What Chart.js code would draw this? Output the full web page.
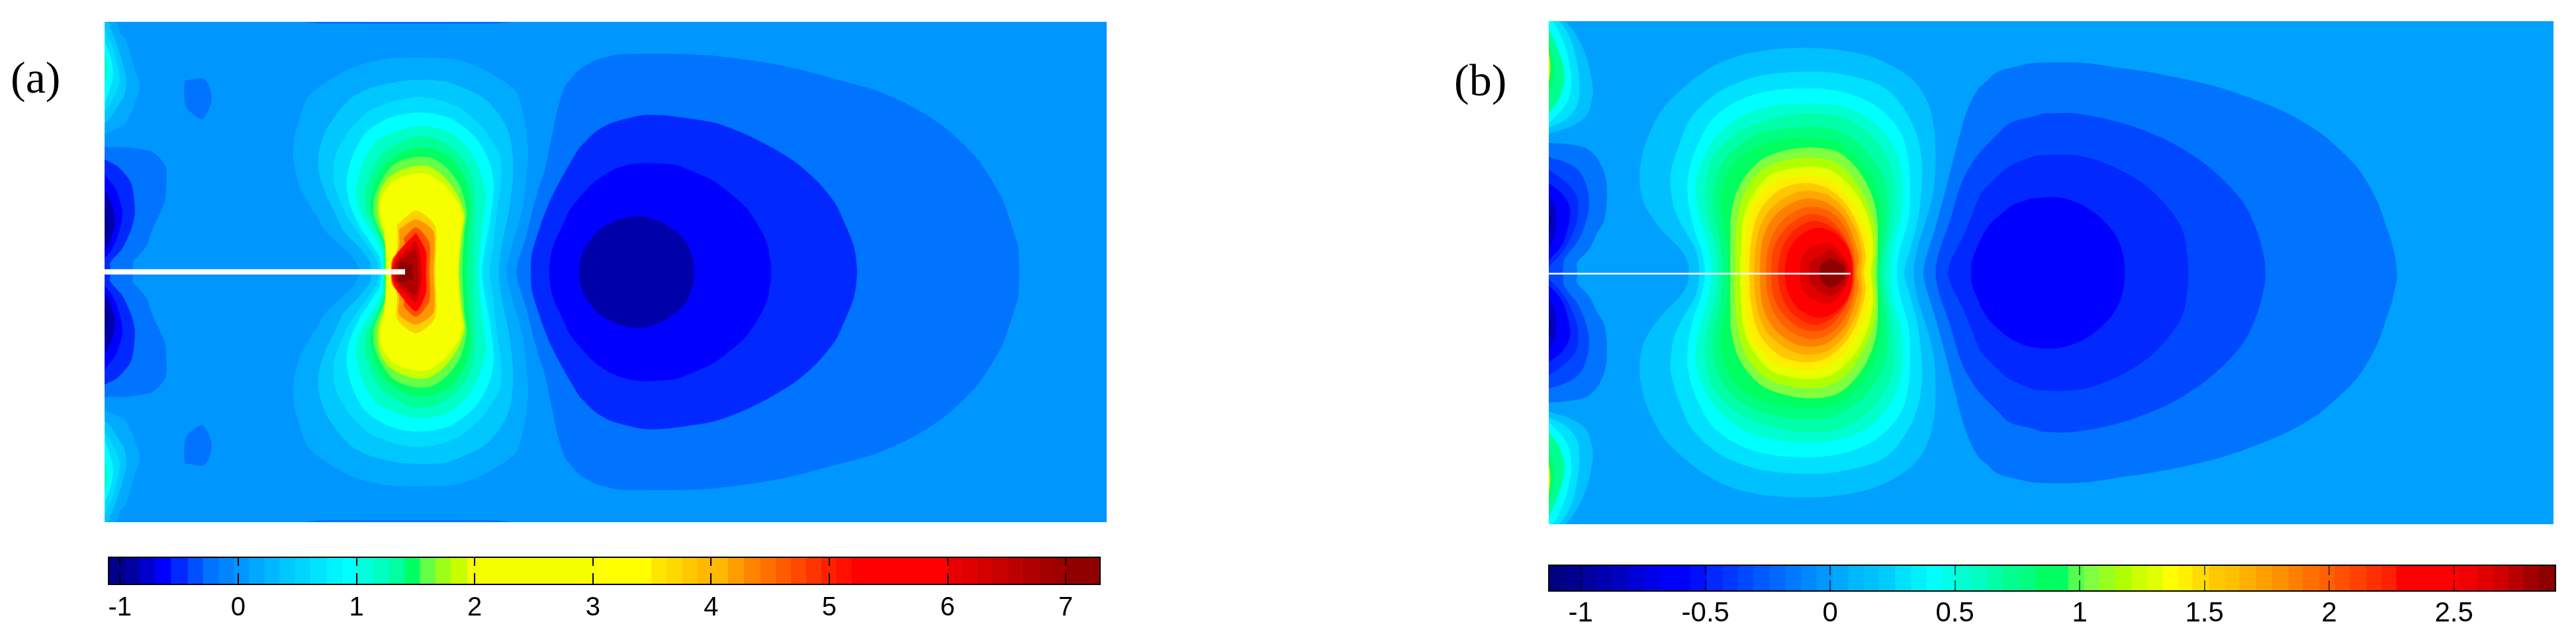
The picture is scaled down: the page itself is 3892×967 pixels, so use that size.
<!DOCTYPE html>
<html>
<head>
<meta charset="utf-8">
<script src="https://cdn.jsdelivr.net/npm/chart.js@4"></script>
<style>
  html, body { margin: 0; background: #fff; overflow: hidden; }
  canvas, .tag { position: absolute; }
  .tag { font: 68px "Liberation Serif", serif; color: #000; line-height: 68px; }
</style>
</head>
<body>
<div class="tag" style="left:16px;top:83px">(a)</div>
<div class="tag" style="left:2197px;top:87px">(b)</div>
<canvas id="field-a" style="left:158px;top:33px" width="1514" height="756"></canvas>
<canvas id="field-b" style="left:2340px;top:32px" width="1518" height="760"></canvas>
<canvas id="bar-a" style="left:100px;top:830px" width="1660" height="137"></canvas>
<canvas id="bar-b" style="left:2280px;top:842px" width="1612" height="125"></canvas>
<script>
// contour outlines, upper half of each plate; the lower half is the mirror image
// x, y are plate coordinates

// ---- panel (a)
var aPlate = [[275,99],[2913,99],[2913,1233],[275,1233]];
var aTopSliver = [[800,99],[840,107],[1310,107],[1345,99]];
var aHole = [[487,365],[535,356],[550,390],[557,460],[532,540],[490,487],[484,400]];

var aEdge1 = [[275,99],[305,99],[318,155],[330,175],[350,290],[368,390],[350,490],[332,555],[310,582],[275,607]];
var aEdge2 = [[275,99],[283,99],[300,170],[318,260],[332,350],[328,430],[310,480],[285,545],[275,555]];
var aEdge3 = [[275,130],[295,210],[310,300],[315,360],[305,420],[290,470],[275,505]];
var aEdge4 = [[275,190],[290,250],[298,330],[290,400],[275,470]];
var aEdge5 = [[275,240],[283,290],[280,350],[275,380]];

var aTrough1 = [[275,667],[330,667],[365,675],[402,690],[436,755],[435,900],[420,970],[403,1030],[385,1115],[350,1190],[348,1233],[275,1233]];
var aTrough2 = [[275,722],[310,755],[345,830],[355,960],[345,1040],[320,1130],[290,1190],[290,1233],[275,1233]];
var aTrough3 = [[275,790],[305,860],[322,960],[315,1040],[295,1130],[275,1170]];
var aTrough4 = [[275,860],[295,930],[303,1010],[290,1090],[275,1145]];
var aTrough5 = [[275,945],[285,1020],[275,1090]];

var aLobe1 = [[945,1233],[945,1215],[925,1160],[885,1095],[855,1045],[835,985],[805,905],[785,830],[772,720],[775,620],[790,530],[810,440],[855,375],[915,315],[965,285],[1045,262],[1180,265],[1240,290],[1310,350],[1360,420],[1380,540],[1390,680],[1385,800],[1375,950],[1350,1100],[1333,1233]];
var aLobe2 = [[975,1233],[975,1190],[945,1120],[905,1050],[880,960],[860,890],[840,790],[838,700],[855,600],[880,530],[920,450],[965,405],[1030,375],[1070,365],[1135,362],[1185,375],[1270,440],[1310,510],[1340,605],[1350,720],[1350,800],[1340,950],[1322,1100],[1312,1233]];
var aLobe3 = [[996,1233],[993,1185],[965,1110],[935,1040],[905,950],[880,830],[882,710],[920,590],[965,510],[1030,460],[1095,440],[1150,450],[1210,490],[1270,580],[1315,700],[1320,800],[1305,1000],[1298,1120],[1289,1233]];
var aLobe4 = [[1003,1233],[1000,1170],[975,1100],[945,1020],[920,920],[912,830],[925,720],[960,605],[1010,545],[1050,520],[1095,510],[1140,515],[1190,540],[1250,620],[1285,720],[1300,840],[1290,1000],[1277,1120],[1269,1233]];
var aLobe5 = [[1008,1233],[1005,1140],[975,1040],[945,950],[937,860],[955,740],[990,640],[1050,590],[1095,572],[1140,575],[1190,605],[1235,680],[1265,780],[1280,890],[1270,1020],[1262,1150],[1260,1233]];
var aLobe6 = [[1010,1233],[1010,1130],[990,1040],[965,960],[960,880],[975,780],[1010,690],[1060,640],[1095,620],[1140,625],[1190,670],[1230,750],[1250,860],[1250,1000],[1245,1233]];
var aLobe7 = [[1012,1233],[1012,1120],[985,1000],[975,930],[985,830],[1015,740],[1060,690],[1095,670],[1140,675],[1190,720],[1225,810],[1240,920],[1235,1020],[1228,1233]];
var aLobe8 = [[1014,1233],[1012,1100],[985,985],[985,900],[1000,830],[1030,755],[1060,725],[1095,710],[1135,715],[1175,760],[1210,840],[1228,960],[1222,1050],[1217,1233]];
var aLobe9 = [[1016,1233],[1012,1080],[995,975],[998,880],[1020,810],[1055,770],[1095,750],[1130,755],[1165,795],[1200,870],[1222,970],[1215,1080],[1208,1233]];
var aLobe10 = [[1018,1233],[1012,1060],[1000,960],[1005,890],[1040,815],[1095,785],[1130,790],[1170,840],[1205,920],[1218,975],[1210,1100],[1205,1233]];

var aHot1 = [[1028,1233],[1030,1200],[1045,1130],[1045,1020],[1095,955],[1145,1025],[1145,1233]];
var aHot2 = [[1030,1233],[1030,1190],[1050,1120],[1050,1040],[1095,995],[1141,1050],[1141,1233]];
var aHot3 = [[1030,1233],[1034,1170],[1065,1115],[1062,1080],[1095,1030],[1130,1100],[1130,1233]];
var aHot4 = [[1031,1233],[1034,1190],[1051,1135],[1095,1055],[1121,1140],[1121,1233]];
var aHot5 = [[1036,1233],[1042,1185],[1060,1150],[1095,1095],[1110,1233]];
var aHot6 = [[1048,1233],[1048,1190],[1095,1130],[1100,1233]];
var aHot7 = [[1048,1233],[1048,1190],[1086,1200],[1086,1233]];

var aCold1 = [[1359,1233],[1385,1070],[1410,900],[1435,760],[1450,640],[1470,480],[1490,385],[1525,315],[1533,305],[1568,272],[1613,252],[1643,245],[1803,245],[1878,252],[2003,280],[2093,310],[2213,365],[2298,405],[2368,455],[2438,520],[2503,600],[2573,720],[2593,770],[2638,900],[2668,1050],[2680,1120],[2683,1233]];
var aCold2 = [[1397,1233],[1400,1150],[1423,1020],[1450,900],[1490,770],[1525,670],[1533,655],[1568,597],[1613,555],[1693,522],[1748,522],[1878,555],[1958,605],[2033,670],[2098,740],[2153,825],[2198,920],[2228,1030],[2248,1120],[2256,1233]];
var aCold3 = [[1445,1233],[1455,1120],[1481,1020],[1500,950],[1533,880],[1568,820],[1613,770],[1658,745],[1698,738],[1778,748],[1828,780],[1883,825],[1963,940],[2008,1060],[2023,1130],[2030,1233]];
var aCold4 = [[1524,1233],[1527,1180],[1540,1120],[1573,1050],[1613,1005],[1658,982],[1698,982],[1743,1008],[1788,1060],[1813,1120],[1826,1190],[1826,1233]];

var aCrack = [[275,1232.5],[1066,1232.5]];

var aLayers = [
  ['#0096ff', aPlate], ['#0073ff', aTopSliver], ['#0073ff', aHole],
  ['#00aaff', aEdge1], ['#00c8ff', aEdge2], ['#00dcff', aEdge3], ['#00ffff', aEdge4], ['#00ffc8', aEdge5],
  ['#0073ff', aTrough1], ['#0028ff', aTrough2], ['#0000ff', aTrough3], ['#0000aa', aTrough4], ['#00008c', aTrough5],
  ['#00aaff', aLobe1], ['#00c8ff', aLobe2], ['#00dcff', aLobe3], ['#00ffff', aLobe4], ['#00ffc8', aLobe5],
  ['#00ff96', aLobe6], ['#00ff64', aLobe7], ['#64ff46', aLobe8], ['#c8ff00', aLobe9], ['#f5ff00', aLobe10],
  ['#ffd000', aHot1], ['#ff9600', aHot2], ['#ff5000', aHot3], ['#ff0000', aHot4], ['#d00000', aHot5], ['#b00000', aHot6], ['#8c0000', aHot7],
  ['#0073ff', aCold1], ['#0028ff', aCold2], ['#0000ff', aCold3], ['#0000aa', aCold4]
];

// ---- panel (b)
var bPlate = [[244,96],[2888,96],[2888,1236],[244,1236]];

var bEdge1 = [[244,96],[285,96],[320,170],[345,270],[360,400],[355,470],[340,530],[300,575],[244,605]];
var bEdge2 = [[244,96],[270,96],[300,170],[320,300],[325,400],[318,480],[290,540],[244,580]];
var bEdge3 = [[244,96],[255,96],[285,200],[302,320],[302,400],[290,470],[244,560]];
var bEdge4 = [[244,130],[265,210],[282,300],[285,370],[270,450],[244,515]];
var bEdge5 = [[244,190],[255,270],[258,350],[250,400],[244,430]];
var bEdge6 = [[244,230],[248,290],[247,340],[244,370]];

var bTrough1 = [[244,648],[300,655],[350,680],[385,760],[397,860],[390,1000],[370,1060],[350,1130],[318,1190],[316,1236],[244,1236]];
var bTrough2 = [[244,710],[300,745],[330,790],[348,880],[348,960],[325,1080],[285,1175],[278,1236],[244,1236]];
var bTrough3 = [[244,770],[285,820],[315,880],[322,950],[315,1020],[285,1130],[244,1210]];
var bTrough4 = [[244,830],[280,880],[300,950],[290,1060],[275,1120],[244,1180]];
var bTrough5 = [[244,880],[262,950],[262,1050],[244,1130]];
var bTrough6 = [[244,940],[250,1000],[244,1060]];

var bLobe1 = [[612,1236],[610,1190],[590,1130],[545,1050],[510,970],[490,900],[483,800],[490,700],[510,600],[545,490],[590,410],[640,340],[700,280],[770,240],[860,220],[950,218],[1040,235],[1120,275],[1200,360],[1240,460],[1258,580],[1262,700],[1258,850],[1240,980],[1215,1120],[1205,1236]];
var bLobe2 = [[640,1236],[630,1130],[600,1040],[575,950],[565,850],[565,780],[590,640],[620,530],[680,430],[740,375],[810,340],[880,327],[960,325],[1040,345],[1120,390],[1170,470],[1210,600],[1225,720],[1225,850],[1215,1000],[1195,1130],[1180,1236]];
var bLobe3 = [[655,1236],[645,1130],[625,1030],[610,900],[612,780],[640,640],[680,530],[750,450],[830,410],[900,400],[980,405],[1060,440],[1120,500],[1170,600],[1190,720],[1195,850],[1190,1000],[1170,1120],[1160,1236]];
var bLobe4 = [[672,1236],[660,1100],[640,980],[630,850],[650,720],[690,610],[760,520],[840,478],[930,467],[1010,480],[1080,530],[1130,610],[1165,720],[1175,850],[1170,1000],[1150,1120],[1145,1236]];
var bLobe5 = [[688,1236],[680,1100],[660,980],[655,850],[675,720],[725,620],[790,560],[860,525],[930,512],[1005,525],[1060,570],[1110,650],[1145,760],[1155,860],[1150,1000],[1135,1130],[1130,1236]];
var bLobe6 = [[700,1236],[695,1100],[680,980],[678,860],[700,740],[750,650],[820,595],[930,572],[1000,590],[1060,650],[1100,730],[1130,830],[1135,1000],[1120,1236]];
var bLobe7 = [[715,1236],[712,1100],[700,980],[700,860],[725,760],[775,680],[850,635],[930,622],[1000,640],[1050,700],[1090,790],[1115,900],[1120,1000],[1110,1236]];
var bLobe8 = [[722,1236],[722,1100],[725,960],[750,830],[800,730],[860,685],[930,667],[1000,685],[1045,745],[1080,830],[1105,950],[1110,1100],[1108,1236]];
var bLobe9 = [[735,1236],[735,1100],[745,950],[770,840],[815,760],[870,725],[930,712],[990,730],[1030,780],[1065,860],[1095,980],[1105,1100],[1100,1236]];
var bLobe10 = [[748,1236],[750,1100],[760,960],[790,860],[830,790],[880,765],[930,753],[985,770],[1030,830],[1065,910],[1090,1020],[1098,1130],[1092,1236]];
var bLobe11 = [[760,1236],[762,1100],[775,960],[810,870],[850,815],[890,800],[930,793],[975,810],[1015,860],[1050,940],[1080,1050],[1088,1150],[1082,1236]];
var bLobe12 = [[772,1236],[776,1100],[795,970],[830,890],[870,845],[930,830],[975,850],[1010,895],[1040,960],[1065,1060],[1078,1160],[1072,1236]];
var bLobe13 = [[785,1236],[790,1100],[810,990],[845,920],[890,875],[930,865],[975,880],[1010,925],[1035,985],[1060,1080],[1068,1170],[1065,1236]];
var bLobe14 = [[800,1236],[805,1100],[825,1010],[860,945],[900,908],[935,900],[975,915],[1005,955],[1030,1010],[1050,1100],[1060,1180],[1055,1236]];
var bLobe15 = [[815,1236],[822,1120],[845,1030],[880,970],[920,940],[950,937],[985,960],[1010,1000],[1035,1070],[1048,1150],[1050,1236]];
var bLobe16 = [[830,1236],[835,1130],[860,1050],[900,990],[940,970],[975,985],[1005,1030],[1030,1100],[1045,1180],[1047,1236]];
var bLobe17 = [[848,1236],[855,1140],[880,1060],[920,1010],[950,1000],[985,1025],[1015,1070],[1040,1150],[1045,1236]];
var bLobe18 = [[865,1236],[875,1140],[900,1075],[940,1035],[965,1032],[1000,1060],[1030,1120],[1042,1190],[1043,1236]];
var bLobe19 = [[905,1236],[910,1170],[935,1120],[985,1098],[1020,1160],[1035,1210],[1035,1236]];
var bLobe20 = [[930,1236],[932,1190],[985,1130],[1025,1190],[1030,1236]];
var bLobe21 = [[958,1236],[958,1205],[985,1168],[1020,1205],[1022,1236]];

var bCold1 = [[1230,1236],[1240,1150],[1260,1040],[1290,850],[1315,680],[1345,500],[1375,400],[1394,372],[1423,327],[1473,302],[1522,285],[1651,285],[1731,304],[1840,332],[1988,387],[2087,442],[2186,512],[2266,592],[2315,662],[2375,767],[2424,912],[2449,1032],[2464,1112],[2476,1236]];
var bCold2 = [[1262,1236],[1270,1150],[1300,1000],[1330,830],[1365,720],[1394,662],[1423,612],[1458,557],[1522,527],[1542,515],[1631,515],[1740,552],[1840,612],[1909,672],[1988,767],[2067,907],[2102,1022],[2122,1132],[2130,1236]];
var bCold3 = [[1295,1236],[1300,1190],[1340,1050],[1380,880],[1394,852],[1423,802],[1453,757],[1498,722],[1527,704],[1631,704],[1711,742],[1800,822],[1859,912],[1909,1032],[1924,1152],[1927,1236]];
var bCold4 = [[1355,1236],[1358,1180],[1394,1042],[1423,987],[1463,932],[1513,900],[1587,895],[1661,942],[1721,1032],[1750,1122],[1760,1236]];

var bCrack = [[244,1240.5],[1038,1240.5]];

var bLayers = [
  ['#00a0ff', bPlate],
  ['#00c0ff', bEdge1], ['#00e0ff', bEdge2], ['#00ffff', bEdge3], ['#00ff90', bEdge4], ['#00ff60', bEdge5], ['#c8ff00', bEdge6],
  ['#0073ff', bTrough1], ['#0048ff', bTrough2], ['#0028ff', bTrough3], ['#0000ff', bTrough4], ['#0000c0', bTrough5], ['#00008c', bTrough6],
  ['#00c0ff', bLobe1], ['#00e0ff', bLobe2], ['#00ffff', bLobe3], ['#00ffd0', bLobe4], ['#00ffa8', bLobe5], ['#00ff80', bLobe6],
  ['#00ff60', bLobe7], ['#80ff40', bLobe8], ['#b0ff00', bLobe9], ['#e8ff00', bLobe10], ['#ffee00', bLobe11], ['#ffc800', bLobe12],
  ['#ffa800', bLobe13], ['#ff8000', bLobe14], ['#ff6000', bLobe15], ['#ff4000', bLobe16], ['#ff2000', bLobe17], ['#ff0000', bLobe18],
  ['#e00000', bLobe19], ['#c00000', bLobe20], ['#900000', bLobe21],
  ['#0073ff', bCold1], ['#0048ff', bCold2], ['#0028ff', bCold3], ['#0000ff', bCold4]
];

// ---- colour bars
var aBarEdges = [-1.097,-0.958,-0.835,-0.703,-0.571,-0.429,-0.30,-0.168,-0.039,0.09,0.219,0.348,0.477,0.606,0.745,0.881,1.0,1.139,1.277,1.406,1.535,1.665,1.794,1.935,3.0,3.494,3.62,3.754,3.88,4.142,4.277,4.416,4.544,4.673,4.801,4.93,5.058,5.186,6.006,6.118,6.246,6.375,6.503,6.632,6.777,6.905,7.005,7.29];
var aBarColors = ['#00008c','#0000a0','#0000cc','#0000ff','#0028ff','#0050ff','#0073ff','#0085ff','#0096ff','#00a8ff','#00b8ff','#00c8ff','#00d4ff','#00e4ff','#00f4ff','#00ffff','#00ffdc','#00ffc0','#00ffa0','#00ff64','#64ff46','#9bff18','#c8ff00','#f5ff00','#ffff00','#ffe600','#ffd800','#ffc800','#ffb800','#ff9c00','#ff8400','#ff7000','#ff5c00','#ff4800','#ff3400','#ff2000','#ff1000','#ff0000','#e80000','#e00000','#d40000','#c80000','#bc0000','#b00000','#a40000','#9c0000','#900000'];
var aBarTicks = [-1,0,1,2,3,4,5,6,7];

var bBarEdges = [-1.128,-1.061,-0.992,-0.936,-0.875,-0.81,-0.742,-0.678,-0.561,-0.496,-0.432,-0.371,-0.309,-0.245,-0.181,-0.117,-0.056,0.009,0.072,0.133,0.194,0.259,0.323,0.384,0.445,0.501,0.566,0.627,0.688,0.756,0.824,0.953,1.016,1.077,1.141,1.207,1.268,1.331,1.395,1.451,1.518,1.581,1.639,1.706,1.77,1.836,1.893,1.96,2.023,2.081,2.148,2.208,2.268,2.52,2.59,2.657,2.717,2.777,2.838,2.907];
var bBarColors = ['#000082','#000090','#0000a0','#0000b0','#0000c0','#0000d8','#0000e8','#0000ff','#0010ff','#0028ff','#0038ff','#0048ff','#0058ff','#0068ff','#0078ff','#0088ff','#0098ff','#00a8ff','#00b8ff','#00c0ff','#00ccff','#00e0ff','#00f0ff','#00ffff','#00ffe8','#00ffd0','#00ffc0','#00ffa8','#00ff90','#00ff80','#00ff60','#50ff50','#80ff40','#98ff20','#b0ff00','#ccff00','#e0ff00','#ffff00','#fff000','#ffdc00','#ffc800','#ffc000','#ffb000','#ffa000','#ff9000','#ff8000','#ff7000','#ff6000','#ff5000','#ff4000','#ff3000','#ff2000','#ff0000','#f00000','#e00000','#d00000','#b80000','#a00000','#8c0000'];
var bBarTicks = [-1,-0.5,0,0.5,1,1.5,2,2.5];

function toPoints(list) {
  return list.map(function(p) { return { x: p[0], y: p[1] }; });
}

function mirrored(list, mid) {
  return list.map(function(p) { return { x: p[0], y: 2 * mid - p[1] }; });
}

// outlines that start and end on the mid line become one closed loop, so the spline runs through the line smoothly
function outlines(list, mid) {
  var n = list.length;
  if (list[0][1] !== mid || list[n - 1][1] !== mid) {
    return [toPoints(list), mirrored(list, mid)];
  }
  var loop = toPoints(list).concat(mirrored(list, mid).slice(1, n - 1).reverse());
  var k = Math.floor(n / 2);
  return [loop.slice(k).concat(loop.slice(0, k + 1))];
}

function drawField(id, layers, crack, crackWidth, box, mid, tension) {
  var sets = [];
  layers.forEach(function(layer, i) {
    outlines(layer[1], mid).forEach(function(pts) {
      sets.push({ data: pts, backgroundColor: layer[0], borderWidth: 0, fill: 'shape', pointRadius: 0, tension: i === 0 ? 0 : tension, showLine: true });
    });
  });
  sets.push({ data: toPoints(crack), borderColor: '#fff', borderWidth: crackWidth, fill: false, pointRadius: 0, showLine: true });
  // chart.js paints the first dataset last
  sets.reverse();

  new Chart(document.getElementById(id), {
    type: 'scatter',
    data: { datasets: sets },
    options: {
      responsive: false,
      animation: false,
      layout: { padding: 0 },
      plugins: { legend: { display: false }, tooltip: { enabled: false } },
      scales: {
        x: { type: 'linear', display: false, min: box[0], max: box[1] },
        y: { type: 'linear', display: false, reverse: true, min: box[2], max: box[3] }
      }
    }
  });
}

// black box round the colour bar
var barFrame = {
  id: 'barFrame',
  afterDatasetsDraw: function(chart, args, opts) {
    var a = chart.chartArea, c = chart.ctx;
    c.save();
    c.strokeStyle = opts.color;
    c.lineWidth = 2;
    c.strokeRect(a.left, a.top + 1, a.right - a.left, a.bottom - a.top - 1);
    c.restore();
  }
};

function drawBar(id, edges, colors, ticks, pad, axisHeight, dash, tickColor, fontSize, labelPad) {
  var sets = colors.map(function(color, i) {
    return { data: [[edges[i], edges[i + 1]]], backgroundColor: color, borderWidth: 0, barPercentage: 1, categoryPercentage: 1, grouped: false };
  });

  new Chart(document.getElementById(id), {
    type: 'bar',
    plugins: [barFrame],
    data: { labels: [''], datasets: sets },
    options: {
      indexAxis: 'y',
      responsive: false,
      animation: false,
      layout: { padding: pad },
      plugins: { legend: { display: false }, tooltip: { enabled: false }, barFrame: { color: '#000' } },
      scales: {
        y: { display: false },
        x: {
          type: 'linear',
          min: edges[0],
          max: edges[edges.length - 1],
          afterBuildTicks: function(scale) { scale.ticks = ticks.map(function(v) { return { value: v }; }); },
          afterFit: function(scale) { scale.height = axisHeight; },
          grid: { z: 1, color: tickColor, lineWidth: 2, drawTicks: false },
          border: { display: false, dash: dash },
          ticks: {
            autoSkip: false,
            maxRotation: 0,
            padding: labelPad,
            color: '#000',
            font: { family: '"Liberation Sans Narrow", "Liberation Sans"', size: fontSize },
            callback: function(v) { return String(v); }
          }
        }
      }
    }
  });
}

drawField('field-a', aLayers, aCrack, 8, [275, 2913, 99, 2367], 1233, 0.25);
drawField('field-b', bLayers, bCrack, 2.5, [244, 2888, 96, 2376], 1236, 0.35);
drawBar('bar-a', aBarEdges, aBarColors, aBarTicks, { left: 64, right: 98, top: 11, bottom: 0 }, 84, [14, 11, 17], '#000', 40, 12);
drawBar('bar-b', bBarEdges, bBarColors, bBarTicks, { left: 60, right: 31, top: 11, bottom: 0 }, 74, [16, 8, 16], 'rgba(0,0,0,0.6)', 42, 9);
</script>
</body>
</html>
